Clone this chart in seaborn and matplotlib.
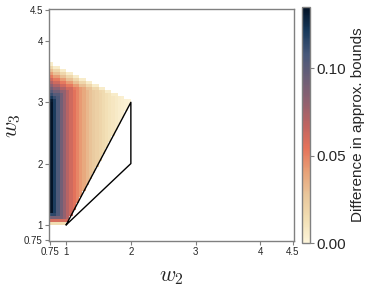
import numpy as np
import matplotlib
matplotlib.use("Agg")
import matplotlib.pyplot as plt
import matplotlib.transforms as mtransforms
from matplotlib.colors import LinearSegmentedColormap
import seaborn as sns
import pandas as pd

# grid of the heatmap (cell size 0.05 in both directions)
w2_start = 0.75
w3_start = 1.0
step = 0.05
n_rows = 53

# value of each w2 column (left edges 0.75 ... 1.95)
col_values = [0.134, 0.120, 0.105, 0.092, 0.080, 0.070, 0.062, 0.055, 0.049,
              0.043, 0.038, 0.033, 0.029, 0.025, 0.022, 0.019, 0.016, 0.013,
              0.011, 0.009, 0.007, 0.005, 0.004, 0.003, 0.002]
# upper edge (w3) of the coloured area in each column
col_tops = [3.65, 3.6, 3.6, 3.55, 3.55, 3.5, 3.5, 3.45, 3.45, 3.4, 3.4, 3.35,
            3.35, 3.3, 3.3, 3.25, 3.25, 3.2, 3.2, 3.15, 3.15, 3.1, 3.1, 3.05, 3.05]
# largest value reached, counted in cells from the top cell downwards
top_ramp = [0.006, 0.018, 0.030, 0.042, 0.052, 0.062, 0.072, 0.082, 0.092,
            0.102, 0.112, 0.122, 0.132, 0.140]
# largest value reached, counted in cells from the bottom row upwards
bottom_ramp = [0.015, 0.060, 0.090, 0.115, 0.140]

# triangle outline
tri_w2 = [1, 2, 2, 1]
tri_w3 = [1, 3, 2, 1]

ticks = [0.75, 1, 2, 3, 4, 4.5]
tick_labels = ["0.75", "1", "2", "3", "4", "4.5"]
cbar_ticks = [0.0, 0.05, 0.10]

# lipari-like colour map, reversed (cream -> salmon -> mauve -> navy)
cmap = LinearSegmentedColormap.from_list("lipari_r", [
    "#fdf5da", "#f2dfb4", "#e9c79c", "#e8a278", "#e6735a", "#bf6461",
    "#906170", "#6b5f77", "#47587a", "#17395b", "#031326"])

# build the cell table
grid = np.full((n_rows, len(col_values)), np.nan)
for j, v in enumerate(col_values):
    w2c = w2_start + step * (j + 0.5)
    rows = []
    for i in range(n_rows):
        w3c = w3_start + step * (i + 0.5)
        if w3c >= 2 * w2c - 1 and w3c <= col_tops[j]:
            rows.append(i)
    for k, i in enumerate(reversed(rows)):
        grid[i, j] = min(v, top_ramp[min(k, len(top_ramp) - 1)],
                         bottom_ramp[min(i, len(bottom_ramp) - 1)])
df = pd.DataFrame(grid)

sns.set_theme(style="ticks")
plt.rcParams["font.family"] = ["Liberation Sans", "DejaVu Sans"]
plt.rcParams["mathtext.fontset"] = "cm"

fig = plt.figure(figsize=(3.74, 2.86), dpi=100)
ax = fig.add_axes([0.131, 0.157, 0.655, 0.811])
cax = fig.add_axes([0.8075, 0.150, 0.0214, 0.825])

sns.heatmap(df, ax=ax, cmap=cmap, vmin=0, vmax=0.135, cbar_ax=cax,
            xticklabels=False, yticklabels=False)
# place the cells in data units
mesh = ax.collections[0]
mesh.set_transform(mtransforms.Affine2D().scale(step).translate(w2_start, w3_start) + ax.transData)

ax.plot(tri_w2, tri_w3, color="black", lw=1.0)

ax.set_xlim(0.735, 4.52)
ax.set_ylim(0.735, 4.52)
ax.set_xticks(ticks)
ax.set_xticklabels(tick_labels)
ax.set_yticks(ticks)
ax.set_yticklabels(tick_labels)
ax.tick_params(axis="both", labelsize=7, length=3, width=0.8, color="#808080", pad=1.5)
for s in ax.spines.values():
    s.set_visible(True)
    s.set_color("#808080")
    s.set_linewidth(1.0)
ax.set_xlabel(r"$w_2$", fontsize=16, labelpad=6)
ax.set_ylabel(r"$w_3$", fontsize=16, labelpad=1)

cbar = ax.collections[0].colorbar
cbar.set_ticks(cbar_ticks)
cbar.set_ticklabels(["0.00", "0.05", "0.10"])
cbar.ax.tick_params(labelsize=11, length=3, width=0.8, color="#808080", pad=1.5)
cbar.outline.set_visible(True)
cbar.outline.set_edgecolor("#808080")
cbar.outline.set_linewidth(1.0)
cbar.set_label("Difference in approx. bounds", fontsize=11, labelpad=4)

fig.savefig("out.png", dpi=100)
